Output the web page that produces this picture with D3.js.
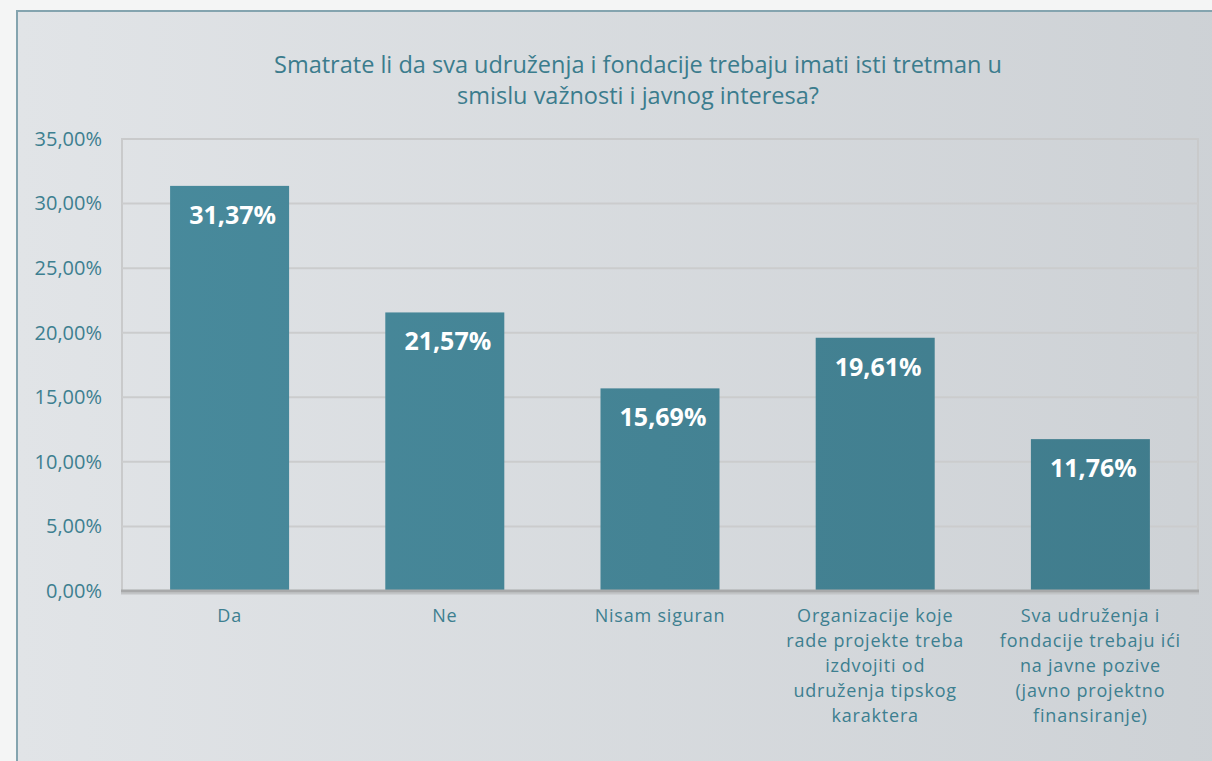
<!DOCTYPE html>
<html lang="en">
<head>
<meta charset="utf-8">
<title>Smatrate li da sva udruženja</title>
<script src="https://cdn.jsdelivr.net/npm/d3@7"></script>
<style>
  body { margin: 0; background: #f4f5f5; }
  svg { display: block; font-family: "Open Sans", sans-serif; }
</style>
</head>
<body>
<div id="chart"></div>
<script>
var categories = [
  "Da",
  "Ne",
  "Nisam siguran",
  "Organizacije koje|rade projekte treba|izdvojiti od|udruženja tipskog|karaktera",
  "Sva udruženja i|fondacije trebaju ići|na javne pozive|(javno projektno|finansiranje)"
];
var values = [31.37, 21.57, 15.69, 19.61, 11.76];
var yTicks = [0, 5, 10, 15, 20, 25, 30, 35];
var titleLines = [
  "Smatrate li da sva udruženja i fondacije trebaju imati isti tretman u",
  "smislu važnosti i javnog interesa?"
];

var W = 1212, H = 761;
var margin = {top: 139, right: 14, bottom: 170, left: 122};
var width = W - margin.left - margin.right;
var height = H - margin.top - margin.bottom;

var fmt = function(v) { return d3.format(".2f")(v).replace(".", ",") + "%"; };

var svg = d3.select("#chart").append("svg")
    .attr("width", W)
    .attr("height", H);

var defs = svg.append("defs");
var bg = defs.append("linearGradient").attr("id", "bg")
    .attr("x1", "0%").attr("x2", "100%").attr("y1", "0%").attr("y2", "0%");
bg.append("stop").attr("offset", "0%").attr("stop-color", "#e1e4e7");
bg.append("stop").attr("offset", "100%").attr("stop-color", "#cdd1d5");

var barGrad = defs.append("linearGradient").attr("id", "barGrad")
    .attr("gradientUnits", "userSpaceOnUse")
    .attr("x1", 0).attr("x2", W).attr("y1", 0).attr("y2", 0);
barGrad.append("stop").attr("offset", "0%").attr("stop-color", "#488a9c");
barGrad.append("stop").attr("offset", "100%").attr("stop-color", "#3f7a8a");

// frame
svg.append("rect")
    .attr("x", 17).attr("y", 11)
    .attr("width", W + 20).attr("height", H + 20)
    .attr("fill", "url(#bg)")
    .attr("stroke", "#84a4af")
    .attr("stroke-width", 2);

// title
svg.append("g").selectAll("text")
    .data(titleLines)
    .enter().append("text")
    .attr("x", 638)
    .attr("y", function(d, i) { return 73 + i * 31; })
    .attr("text-anchor", "middle")
    .attr("fill", "#3b7c8d")
    .attr("font-size", "23.5px")
    .text(function(d) { return d; });

var g = svg.append("g")
    .attr("transform", "translate(" + margin.left + "," + margin.top + ")");

var x = d3.scaleBand()
    .domain(categories)
    .range([0, width])
    .paddingInner(0.447)
    .paddingOuter(0.2235);

var y = d3.scaleLinear()
    .domain([0, 35])
    .range([height, 0]);

// plot border
g.append("rect")
    .attr("x", 0).attr("y", 0)
    .attr("width", width).attr("height", height)
    .attr("fill", "none")
    .attr("stroke", "#c9cacb")
    .attr("stroke-width", 2);

// gridlines
g.append("g").selectAll("line")
    .data(yTicks.slice(1, -1))
    .enter().append("line")
    .attr("x1", 0).attr("x2", width)
    .attr("y1", function(d) { return y(d); })
    .attr("y2", function(d) { return y(d); })
    .attr("stroke", "#cbcccd")
    .attr("stroke-width", 2);

// y axis labels
var yAxis = d3.axisLeft(y).tickValues(yTicks).tickSize(0).tickPadding(20).tickFormat(fmt);
var ya = g.append("g").call(yAxis);
ya.select(".domain").remove();
ya.selectAll("text")
    .attr("fill", "#3d7f90")
    .attr("font-size", "20px")
    .attr("font-family", "Open Sans, sans-serif");

// bars
g.append("g").selectAll("rect")
    .data(values)
    .enter().append("rect")
    .attr("x", function(d, i) { return x(categories[i]); })
    .attr("y", function(d) { return y(d); })
    .attr("width", x.bandwidth())
    .attr("height", function(d) { return height - y(d); })
    .attr("fill", "url(#barGrad)");

// value labels
g.append("g").selectAll("text")
    .data(values)
    .enter().append("text")
    .attr("x", function(d, i) { return x(categories[i]) + x.bandwidth() / 2 + 3; })
    .attr("y", function(d) { return y(d) + 38; })
    .attr("text-anchor", "middle")
    .attr("fill", "#ffffff")
    .attr("font-weight", "bold")
    .attr("font-size", "25px")
    .text(fmt);

// bottom axis line with shadow
g.append("line")
    .attr("x1", -1).attr("x2", width + 1)
    .attr("y1", height + 2.5).attr("y2", height + 2.5)
    .attr("stroke", "#c2c4c6").attr("stroke-width", 2);
g.append("line")
    .attr("x1", -1).attr("x2", width + 1)
    .attr("y1", height).attr("y2", height)
    .attr("stroke", "#a8a9aa").attr("stroke-width", 3);

// x labels, one text per line so they stack like the original
var xg = g.append("g").selectAll("g")
    .data(categories)
    .enter().append("g")
    .attr("transform", function(d) {
      return "translate(" + (x(d) + x.bandwidth() / 2) + "," + (height + 31) + ")";
    });
xg.selectAll("text")
    .data(function(d) { return d.split("|"); })
    .enter().append("text")
    .attr("text-anchor", "middle")
    .attr("fill", "#3d7f90")
    .attr("font-size", "18px")
    .attr("letter-spacing", "0.8px")
    .attr("y", function(d, i) { return i * 25; })
    .text(function(d) { return d; });
</script>
</body>
</html>
